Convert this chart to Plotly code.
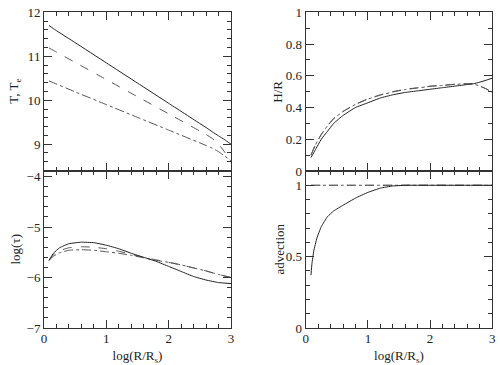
import plotly.graph_objects as go

# ---- data ----
x_T = [0.08, 0.18, 0.5, 1.0, 1.5, 2.0, 2.5, 2.6, 2.7, 2.8, 2.9, 3.0]
T_solid = [11.70, 11.60, 11.31, 10.85, 10.39, 9.93, 9.47, 9.38, 9.28, 9.19, 9.10, 9.00]
T_dash = [11.19, 11.11, 10.86, 10.47, 10.08, 9.69, 9.30, 9.22, 9.13, 9.00, 8.82, 8.60]
T_dashdot = [10.44, 10.38, 10.19, 9.90, 9.61, 9.32, 9.03, 8.97, 8.91, 8.83, 8.73, 8.62]

x_tau = [0.08, 0.15, 0.25, 0.4, 0.6, 0.8, 1.0, 1.2, 1.4, 1.6, 1.8, 2.0, 2.2, 2.4, 2.6, 2.8, 3.0]
tau_solid = [-5.66, -5.52, -5.41, -5.33, -5.30, -5.31, -5.36, -5.43, -5.52, -5.60, -5.68, -5.78, -5.88, -5.98, -6.05, -6.10, -6.12]
tau_dash = [-5.66, -5.55, -5.47, -5.41, -5.39, -5.40, -5.43, -5.48, -5.54, -5.60, -5.65, -5.70, -5.75, -5.81, -5.87, -5.94, -6.00]
tau_dashdot = [-5.66, -5.58, -5.51, -5.46, -5.45, -5.46, -5.49, -5.52, -5.56, -5.61, -5.66, -5.70, -5.75, -5.81, -5.87, -5.94, -6.00]

x_H = [0.085, 0.15, 0.25, 0.35, 0.45, 0.6, 0.8, 1.0, 1.2, 1.4, 1.6, 1.8, 2.0, 2.2, 2.4, 2.6, 2.7, 2.8, 2.9, 3.0]
H_solid = [0.085, 0.13, 0.20, 0.25, 0.30, 0.35, 0.40, 0.43, 0.46, 0.48, 0.495, 0.505, 0.515, 0.525, 0.535, 0.545, 0.55, 0.56, 0.572, 0.585]
H_dash = [0.10, 0.16, 0.23, 0.285, 0.33, 0.375, 0.42, 0.455, 0.48, 0.50, 0.515, 0.525, 0.535, 0.54, 0.547, 0.55, 0.548, 0.535, 0.518, 0.495]
H_dashdot = [0.10, 0.16, 0.23, 0.285, 0.33, 0.375, 0.42, 0.453, 0.478, 0.498, 0.513, 0.523, 0.533, 0.539, 0.546, 0.55, 0.548, 0.535, 0.518, 0.495]

x_adv = [0.085, 0.1, 0.13, 0.18, 0.25, 0.35, 0.45, 0.6, 0.8, 1.0, 1.2, 1.4, 1.6, 2.0, 2.5, 3.0]
adv_solid = [0.37, 0.45, 0.54, 0.63, 0.71, 0.78, 0.82, 0.86, 0.91, 0.95, 0.98, 0.995, 1.0, 1.0, 1.0, 1.0]
adv_dash = [1.0] * len(x_adv)
adv_dashdot = [1.0] * len(x_adv)

y_titles = ["T, T<sub>e</sub>", "log(τ)", "H/R", "advection"]
x_title = "log(R/R<sub>s</sub>)"

fig = go.Figure()
styles = [("solid", "#222222", 1.0), ("dash", "#555555", 1.0), ("dashdot", "#555555", 1.0)]

def add(xs, ys_list, xa, ya, order=(2, 1, 0)):
    for i in order:
        d, c, w = styles[i]
        fig.add_trace(go.Scatter(x=xs, y=ys_list[i], mode="lines", xaxis=xa, yaxis=ya,
                                 line=dict(color=c, width=w, dash=d, shape="spline", smoothing=0.3),
                                 showlegend=False, hoverinfo="skip"))

add(x_T, [T_solid, T_dash, T_dashdot], "x", "y")
add(x_tau, [tau_solid, tau_dash, tau_dashdot], "x2", "y2")
add(x_H, [H_solid, H_dash, H_dashdot], "x3", "y3")
add(x_adv, [adv_solid, adv_dash, adv_dashdot], "x4", "y4")

FONT = "Times New Roman, Liberation Serif, serif"
TF = dict(family=FONT, size=13, color="#222")
L = [0.088, 0.462]
R = [0.6114, 0.9846]
TOP = [0.5315, 0.9663]
BOT = [0.1014, 0.5315]

def common():
    return dict(ticks="inside", ticklen=8, tickcolor="#333", showline=True, linecolor="#333",
                linewidth=1, mirror="ticks", showgrid=False, zeroline=False, automargin=False,
                tickfont=TF)

def xax(domain, anchor, labels, title=None):
    d = common()
    d.update(domain=domain, anchor=anchor, range=[0, 3], dtick=1, tick0=0,
             showticklabels=labels, ticklabelstandoff=-2,
             minor=dict(dtick=0.2, ticks="inside", ticklen=4, tickcolor="#333"))
    if title:
        d["title"] = dict(text=title, font=TF)
    return d

def yax(domain, anchor, rng, dt, mdt):
    d = common()
    d.update(domain=domain, anchor=anchor, range=rng, dtick=dt, tick0=0,
             minor=dict(dtick=mdt, ticks="inside", ticklen=4, tickcolor="#333"))
    return d

# y-axis titles as rotated annotations (paper coords)
title_pos = [(15 / 500, sum(TOP) / 2), (15 / 500, sum(BOT) / 2),
             (278 / 500, sum(TOP) / 2), (279 / 500, sum(BOT) / 2)]
annotations = [dict(text=t, x=px, y=py, xref="paper", yref="paper", textangle=-90,
                    showarrow=False, font=TF, xanchor="center", yanchor="middle")
               for t, (px, py) in zip(y_titles, title_pos)]

fig.update_layout(
    template="none",
    width=500, height=365, margin=dict(l=0, r=0, t=0, b=0, autoexpand=False),
    paper_bgcolor="white", plot_bgcolor="white",
    xaxis=xax(L, "y", False),
    yaxis=yax(TOP, "x", [8.39, 12], 1, 0.2),
    xaxis2=xax(L, "y2", True, x_title),
    yaxis2=yax(BOT, "x2", [-7, -3.89], 1, 0.2),
    xaxis3=xax(R, "y3", False),
    yaxis3=yax(TOP, "x3", [0, 1], 0.2, 0.1),
    xaxis4=xax(R, "y4", True, x_title),
    yaxis4=yax(BOT, "x4", [0, 1.1], 0.5, 0.1),
    annotations=annotations,
)

fig.write_html("out.html", config={"displayModeBar": False},
               post_script="document.body.style.margin='0';document.body.style.padding='0';")
